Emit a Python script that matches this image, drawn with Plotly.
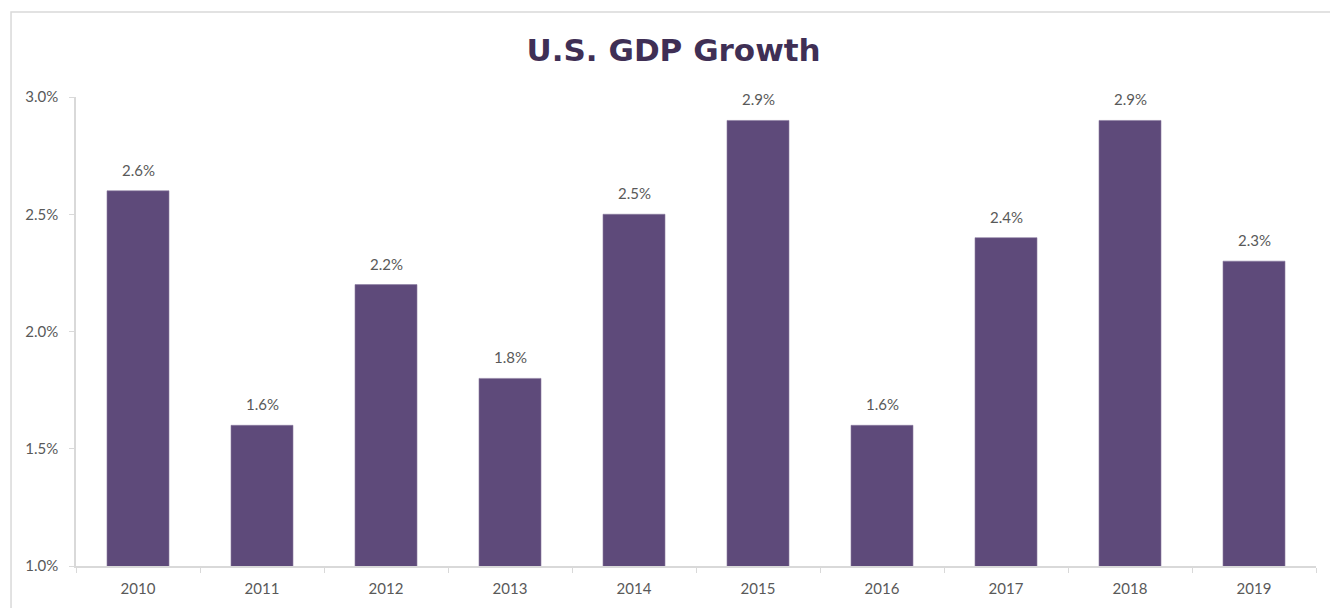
import plotly.graph_objects as go

years = ["2010", "2011", "2012", "2013", "2014", "2015", "2016", "2017", "2018", "2019"]
growth = [2.6, 1.6, 2.2, 1.8, 2.5, 2.9, 1.6, 2.4, 2.9, 2.3]
y_ticks = [1.0, 1.5, 2.0, 2.5, 3.0]

bar_color = "#5E4A7A"
text_color = "#595959"
axis_color = "#D9D9D9"
label_font = dict(family="Lato, Open Sans, sans-serif", size=15, color=text_color)

fig = go.Figure()
fig.add_trace(go.Bar(
    x=years, y=growth, width=0.5,
    marker=dict(color=bar_color, line=dict(color="#8A7AA0", width=0.6)),
    hoverinfo="skip",
))

for i, v in enumerate(growth):
    fig.add_annotation(x=i, y=v, text=f"{v:.1f}%", showarrow=False,
                       yanchor="bottom", yshift=10, font=label_font)

fig.add_shape(type="rect", xref="paper", yref="paper",
              x0=-0.0524, x1=1.2, y0=-0.3, y1=1.1812,
              line=dict(color="#D9D9D9", width=1.5), fillcolor="rgba(0,0,0,0)", layer="below")

fig.update_layout(
    width=1338, height=608,
    margin=dict(l=68, r=30, t=89, b=50, autoexpand=False),
    paper_bgcolor="white", plot_bgcolor="white",
    showlegend=False,
    title=dict(text="<b>U.S. GDP Growth</b>", x=0.4975, xref="container", xanchor="center",
               y=0.931, yref="container", yanchor="middle",
               font=dict(family="DejaVu Sans, sans-serif", size=31, color="#3F2F55")),
    xaxis=dict(type="category", range=[-0.5, 9.5], showline=True, linecolor=axis_color, linewidth=1.5,
               ticks="outside", tickson="boundaries", ticklen=5, tickcolor=axis_color,
               showgrid=False, tickangle=0, automargin=False, ticklabelstandoff=8,
               tickfont=label_font),
    yaxis=dict(range=[1.0, 3.0], tickvals=y_ticks, ticktext=[f"{t:.1f}%" for t in y_ticks],
               showline=True, linecolor=axis_color, linewidth=1.5,
               ticks="outside", ticklen=5, tickcolor=axis_color, showgrid=False, zeroline=False,
               ticklabelstandoff=8, automargin=False, tickfont=label_font),
)

fig.write_html("out.html")
